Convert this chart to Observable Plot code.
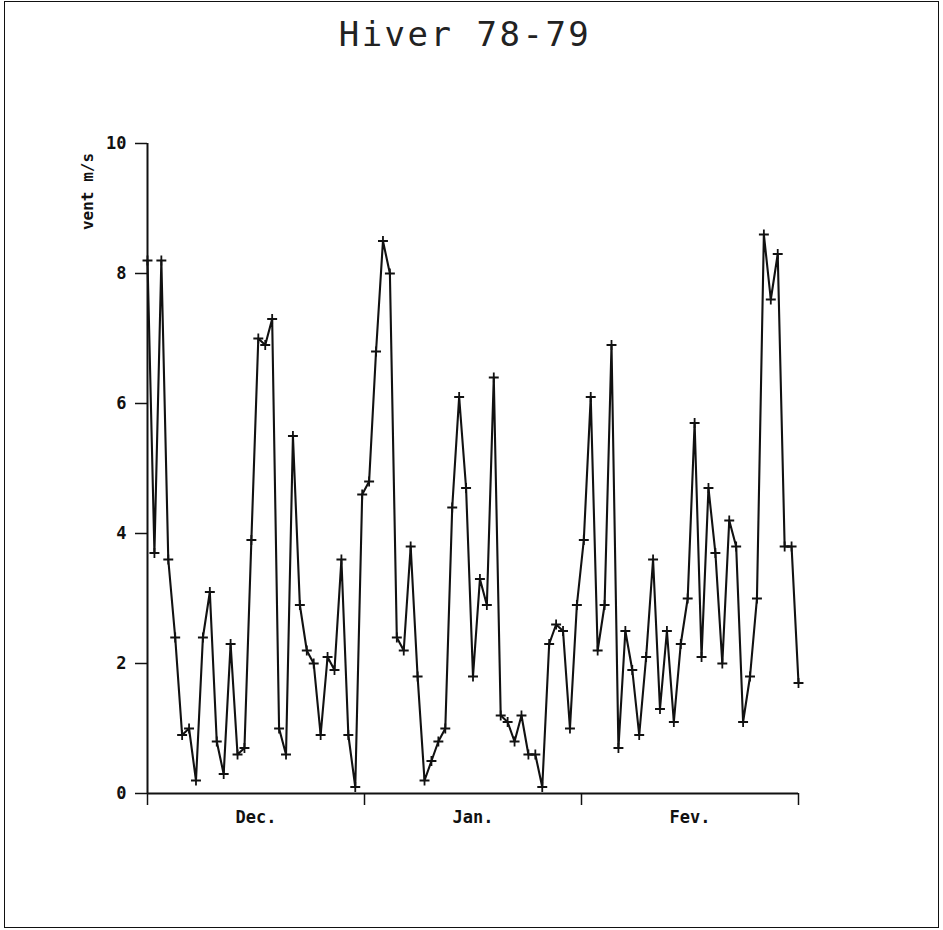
<!DOCTYPE html>
<html>
<head>
<meta charset="utf-8">
<script src="https://cdn.jsdelivr.net/npm/d3@7"></script>
<script src="https://cdn.jsdelivr.net/npm/@observablehq/plot@0.6"></script>
<style>
  html, body { margin: 0; padding: 0; background: #fff; }
  #wrap { position: relative; width: 943px; height: 930px; overflow: hidden; }
  #frame { position: absolute; left: 4px; top: 1px; width: 933px; height: 925px; border: 1.5px solid #111; }
  #title { position: absolute; left: 0; top: 14px; width: 930px; text-align: center;
           font-family: "DejaVu Sans Mono", monospace; font-size: 34px; font-weight: 300;
           letter-spacing: 2.5px; color: #222; }
  #chart { position: absolute; left: 0; top: 0; }
</style>
</head>
<body>
<div id="wrap">
  <div id="frame"></div>
  <div id="chart"></div>
  <div id="title">Hiver 78-79</div>
</div>
<script>
// Daily wind speed (m/s), December 1978 – February 1979
const windSpeed = [
  8.2, 3.7, 8.2, 3.6, 2.4, 0.9, 1.0, 0.2, 2.4, 3.1,
  0.8, 0.3, 2.3, 0.6, 0.7, 3.9, 7.0, 6.9, 7.3, 1.0,
  0.6, 5.5, 2.9, 2.2, 2.0, 0.9, 2.1, 1.9, 3.6, 0.9,
  0.1, 4.6, 4.8, 6.8, 8.5, 8.0, 2.4, 2.2, 3.8, 1.8,
  0.2, 0.5, 0.8, 1.0, 4.4, 6.1, 4.7, 1.8, 3.3, 2.9,
  6.4, 1.2, 1.1, 0.8, 1.2, 0.6, 0.6, 0.1, 2.3, 2.6,
  2.5, 1.0, 2.9, 3.9, 6.1, 2.2, 2.9, 6.9, 0.7, 2.5,
  1.9, 0.9, 2.1, 3.6, 1.3, 2.5, 1.1, 2.3, 3.0, 5.7,
  2.1, 4.7, 3.7, 2.0, 4.2, 3.8, 1.1, 1.8, 3.0, 8.6,
  7.6, 8.3, 3.8, 3.8, 1.7
];
const dayIndex = windSpeed.map((_, i) => i);
const monthNames = ["Dec.", "Jan.", "Fev."];
const monthTicks = [0, 94 / 3, 188 / 3, 94];
const monthMids = [47 / 3, 47, 235 / 3];
const yTicks = [0, 2, 4, 6, 8, 10];
const yLabel = "vent m/s";

const data = dayIndex.map(i => ({ i, v: windSpeed[i] }));
const months = monthNames.map((name, k) => ({ name, x: monthMids[k] }));

const font = "'DejaVu Sans Mono', monospace";

const chart = Plot.plot({
  width: 943,
  height: 930,
  marginLeft: 147,
  marginRight: 145,
  marginTop: 143,
  marginBottom: 137,
  x: { domain: [0, 94], axis: null },
  y: { domain: [0, 10], axis: null },
  style: { fontFamily: font, background: "transparent", color: "#111" },
  marks: [
    Plot.ruleY([0], { stroke: "#111", strokeWidth: 2 }),
    Plot.ruleX([0], { stroke: "#111", strokeWidth: 2 }),
    Plot.axisY({ ticks: yTicks, tickSize: 12, tickPadding: 9, label: null,
                 fontSize: 17, fontWeight: "bold", strokeWidth: 1.5 }),
    Plot.axisX({ ticks: monthTicks, tickSize: 12, tickFormat: () => "", label: null,
                 strokeWidth: 1.5 }),
    Plot.text(months, { x: "x", y: 0, text: "name", dy: 24, fontSize: 17,
                        fontWeight: "bold", fill: "#111" }),
    Plot.text([yLabel], { frameAnchor: "top-left", text: d => d, rotate: -90,
                          dx: -66, dy: 48, fontSize: 16, fontWeight: "bold",
                          fill: "#111", textAnchor: "middle",
                          letterSpacing: "1.5px" }),
    Plot.line(data, { x: "i", y: "v", stroke: "#111", strokeWidth: 2.1 }),
    Plot.dot(data, { x: "i", y: "v", symbol: "plus", r: 3.3, stroke: "#111", strokeWidth: 1.8 })
  ]
});
document.getElementById("chart").appendChild(chart);
</script>
</body>
</html>
